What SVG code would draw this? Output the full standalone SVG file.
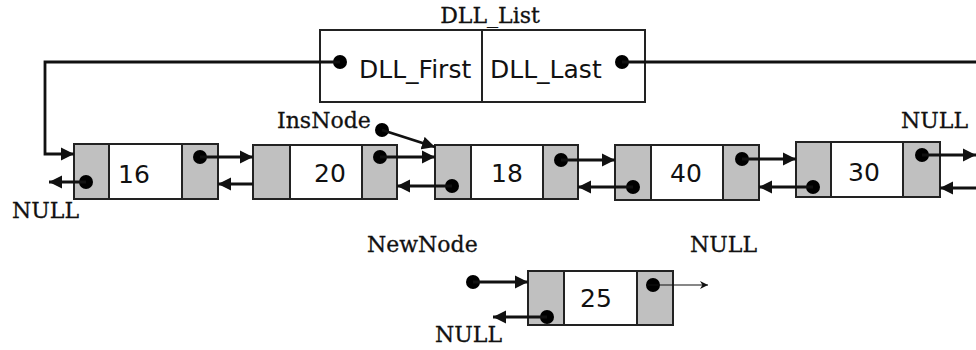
<svg xmlns="http://www.w3.org/2000/svg" width="976" height="350" viewBox="0 0 976 350">
<style>
.g{fill:#c0c0c0;stroke:#222;stroke-width:2}
.w{fill:#fff;stroke:#222;stroke-width:2}
.num{font-family:"DejaVu Sans",Verdana,sans-serif;font-size:25px;fill:#111}
.lbl{font-family:"DejaVu Serif","Liberation Serif",serif;font-size:22px;fill:#111;stroke:#111;stroke-width:0.3}
.fld{font-family:"DejaVu Sans",Verdana,sans-serif;font-size:25px;fill:#111}
.ln{fill:none;stroke:#111;stroke-width:2.8}
.thin{fill:none;stroke:#111;stroke-width:1.2}
.dot{fill:#000}
</style>
<defs>
<marker id="ah" viewBox="0 0 10 10" refX="10" refY="5" markerWidth="13" markerHeight="14" markerUnits="userSpaceOnUse" orient="auto">
<path d="M0,0 L10,5 L0,10 z" fill="#111"/>
</marker>
<marker id="ahs" viewBox="0 0 10 10" refX="10" refY="5" markerWidth="8" markerHeight="8" markerUnits="userSpaceOnUse" orient="auto">
<path d="M0,0 L10,5 L0,10 L3,5 z" fill="#111"/>
</marker>
</defs>

<g id="dll_list">
<text class="lbl" x="490" y="23" text-anchor="middle">DLL_List</text>
<rect class="w" x="320" y="30" width="325" height="72"/>
<line x1="482" y1="30" x2="482" y2="102" stroke="#222" stroke-width="2"/>
<text class="fld" x="359" y="78">DLL_First</text>
<text class="fld" x="490" y="78">DLL_Last</text>
<circle class="dot" cx="340" cy="62" r="7"/>
<circle class="dot" cx="622" cy="62" r="7"/>
</g>

<g id="node16">
<rect class="g" x="74" y="144" width="35" height="55"/>
<rect class="w" x="109" y="144" width="73" height="55"/>
<rect class="g" x="182" y="144" width="36" height="55"/>
<text class="num" x="118" y="183">16</text>
<circle class="dot" cx="200" cy="157" r="7"/>
<circle class="dot" cx="86" cy="182" r="7"/>
</g>

<g id="node20">
<rect class="g" x="253" y="145" width="37" height="54"/>
<rect class="w" x="290" y="145" width="72" height="54"/>
<rect class="g" x="362" y="145" width="35" height="54"/>
<text class="num" x="330" y="182" text-anchor="middle">20</text>
<circle class="dot" cx="380" cy="157" r="7"/>
</g>

<g id="node18">
<rect class="g" x="435" y="145" width="36" height="54"/>
<rect class="w" x="471" y="145" width="72" height="54"/>
<rect class="g" x="543" y="145" width="35" height="54"/>
<text class="num" x="507" y="182" text-anchor="middle">18</text>
<circle class="dot" cx="561" cy="160" r="7"/>
<circle class="dot" cx="452" cy="186" r="7"/>
</g>

<g id="node40">
<rect class="g" x="615" y="145" width="36" height="55"/>
<rect class="w" x="651" y="145" width="72" height="55"/>
<rect class="g" x="723" y="145" width="36" height="55"/>
<text class="num" x="686" y="182" text-anchor="middle">40</text>
<circle class="dot" cx="742" cy="159" r="7"/>
<circle class="dot" cx="633" cy="187" r="7"/>
</g>

<g id="node30">
<rect class="g" x="796" y="142" width="35" height="55"/>
<rect class="w" x="831" y="142" width="72" height="55"/>
<rect class="g" x="903" y="142" width="37" height="55"/>
<text class="num" x="864" y="181" text-anchor="middle">30</text>
<circle class="dot" cx="922" cy="155" r="7"/>
<circle class="dot" cx="813" cy="187" r="7"/>
</g>

<g id="node25">
<rect class="g" x="528" y="271" width="36" height="54"/>
<rect class="w" x="564" y="271" width="73" height="54"/>
<rect class="g" x="637" y="271" width="36" height="54"/>
<text class="num" x="596" y="307" text-anchor="middle">25</text>
<circle class="dot" cx="653" cy="285" r="7"/>
<circle class="dot" cx="547" cy="317" r="7"/>
</g>

<g id="insnode">
<text class="lbl" x="277" y="128">InsNode</text>
<circle class="dot" cx="382" cy="130" r="7"/>
</g>

<g id="newnode">
<text class="lbl" x="367" y="252">NewNode</text>
<circle class="dot" cx="473" cy="282" r="7"/>
</g>

<g id="null_labels">
<text class="lbl" x="12" y="218">NULL</text>
<text class="lbl" x="901" y="128">NULL</text>
<text class="lbl" x="690" y="252">NULL</text>
<text class="lbl" x="435" y="342">NULL</text>
</g>

<g id="connectors">
<polyline class="ln" points="340,62 45,62 45,154 74,154" marker-end="url(#ah)"/>
<line class="ln" x1="622" y1="62" x2="976" y2="62"/>
<line class="ln" x1="86" y1="182" x2="49" y2="182" marker-end="url(#ah)"/>
<line class="ln" x1="200" y1="157" x2="253" y2="157" marker-end="url(#ah)"/>
<line class="ln" x1="253" y1="184" x2="218" y2="184" marker-end="url(#ah)"/>
<line class="ln" x1="380" y1="157" x2="435" y2="157" marker-end="url(#ah)"/>
<line class="ln" x1="452" y1="186" x2="397" y2="186" marker-end="url(#ah)"/>
<line class="ln" x1="382" y1="130" x2="435" y2="147" marker-end="url(#ah)"/>
<line class="ln" x1="561" y1="160" x2="615" y2="160" marker-end="url(#ah)"/>
<line class="ln" x1="633" y1="187" x2="578" y2="187" marker-end="url(#ah)"/>
<line class="ln" x1="742" y1="159" x2="796" y2="159" marker-end="url(#ah)"/>
<line class="ln" x1="813" y1="187" x2="759" y2="187" marker-end="url(#ah)"/>
<line class="ln" x1="922" y1="155" x2="976" y2="155" marker-end="url(#ah)"/>
<line class="ln" x1="976" y1="188" x2="940" y2="188" marker-end="url(#ah)"/>
<line class="ln" x1="473" y1="282" x2="528" y2="282" marker-end="url(#ah)"/>
<line class="ln" x1="547" y1="317" x2="493" y2="317" marker-end="url(#ah)"/>
<line class="thin" x1="646" y1="285" x2="708" y2="285" marker-end="url(#ahs)"/>
</g>
</svg>
